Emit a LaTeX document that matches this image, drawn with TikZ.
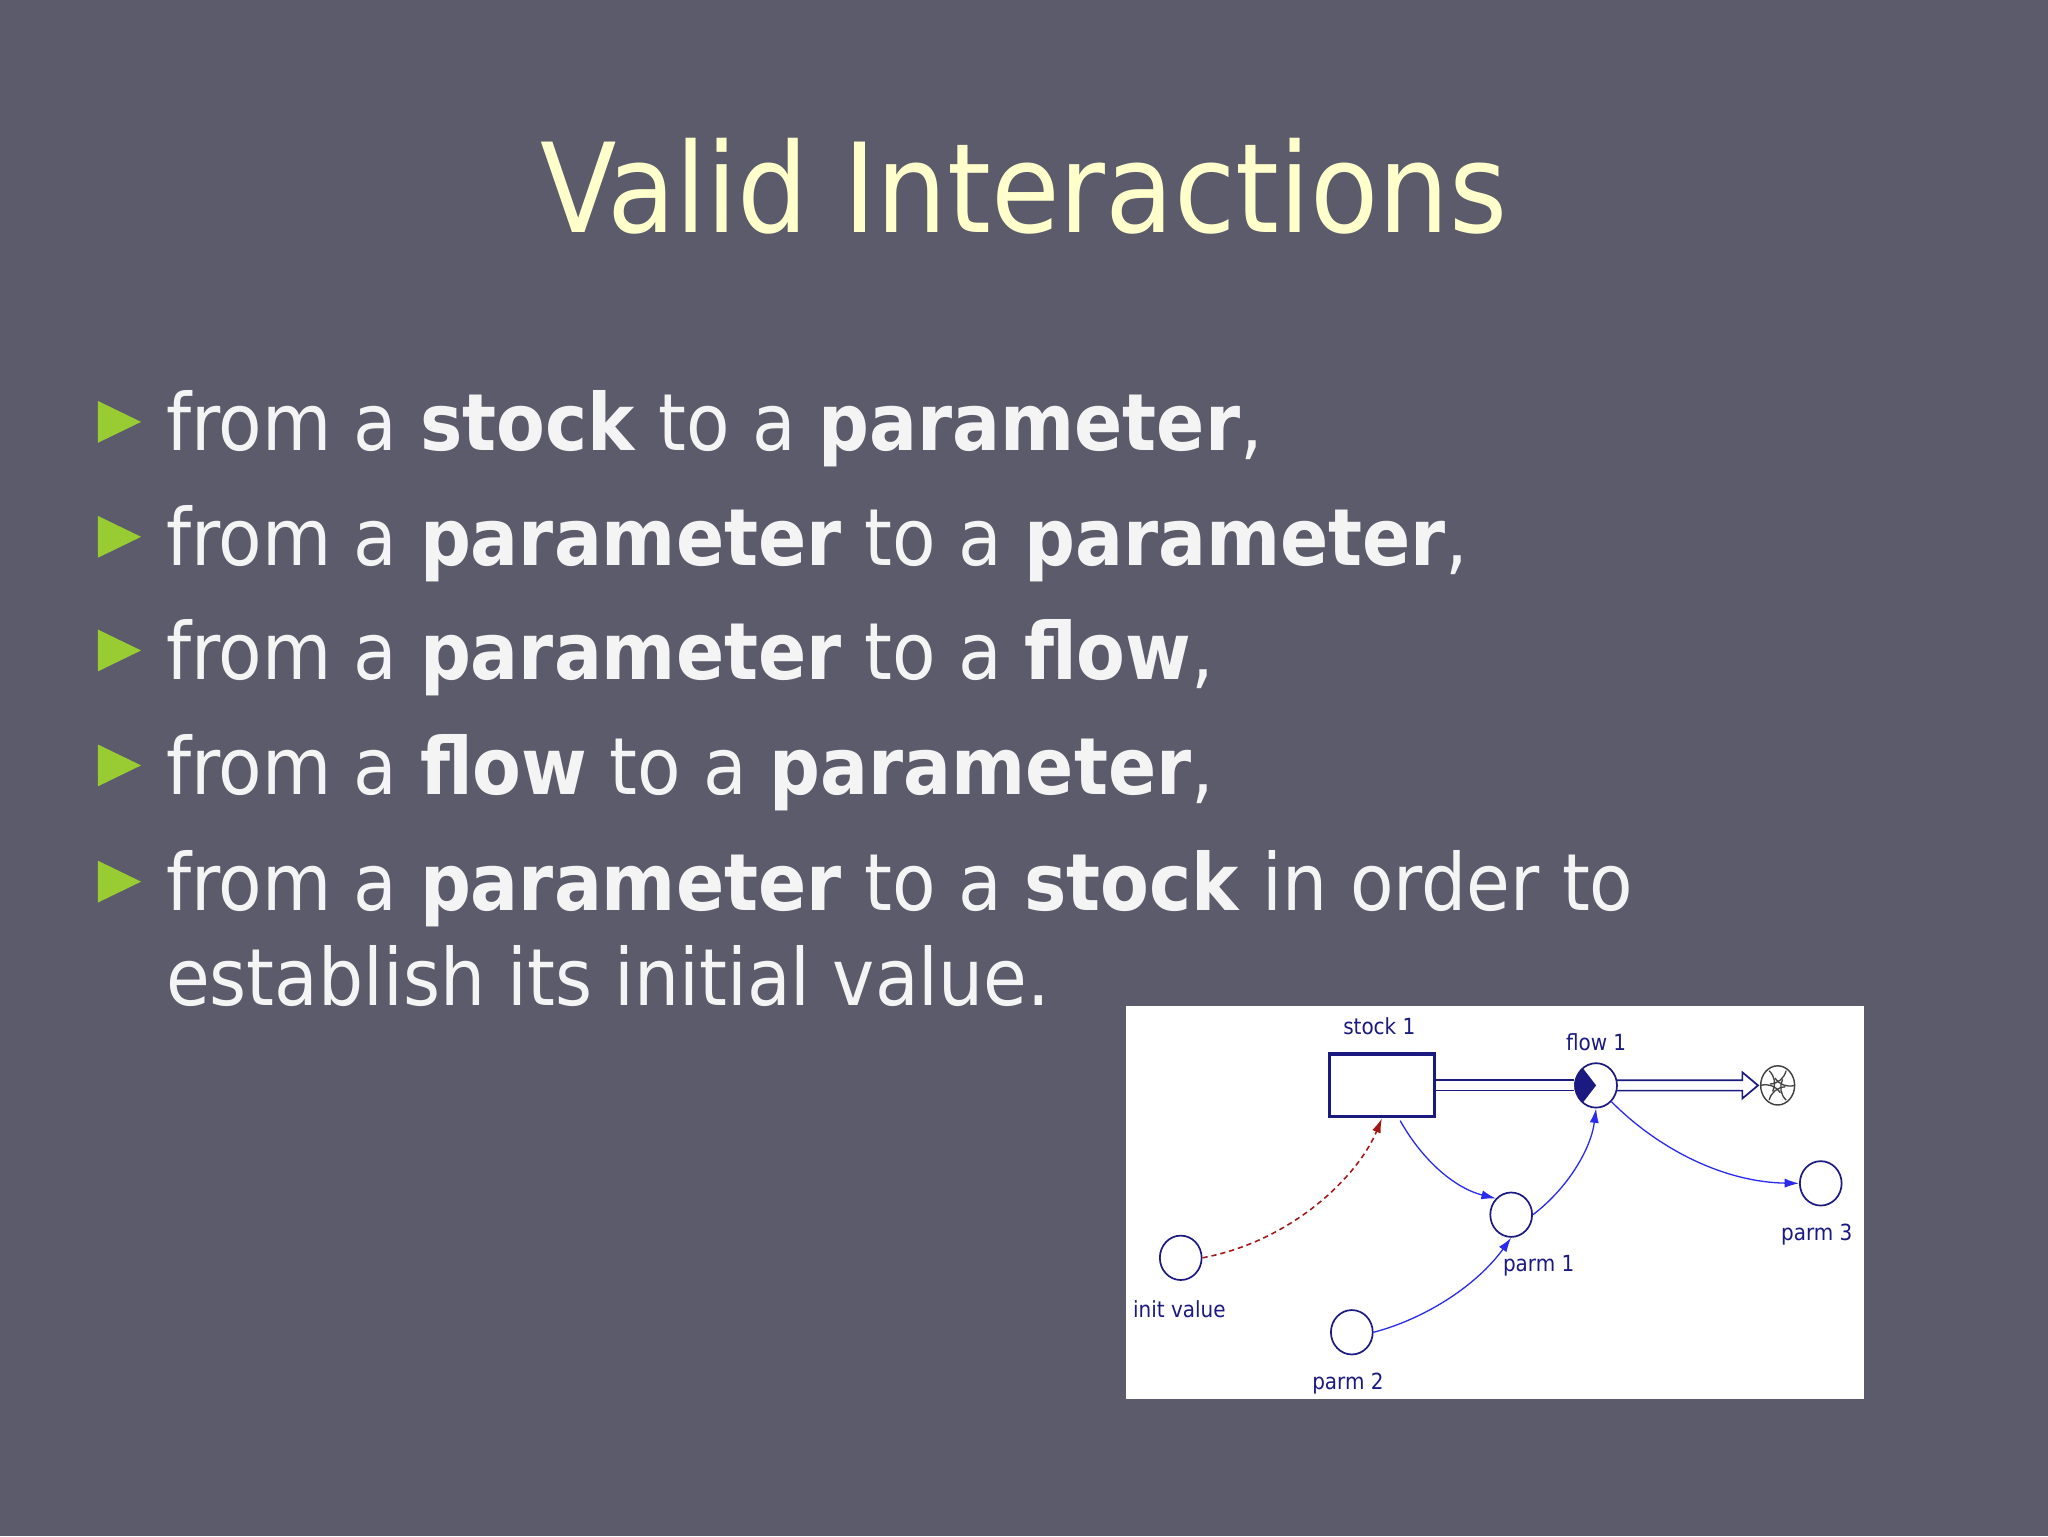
\documentclass[tikz,border=0pt]{standalone}
\usepackage{fontspec}
\setmainfont{DejaVu Sans Condensed}
\usetikzlibrary{arrows.meta,shapes.geometric,calc}
\definecolor{bg}{HTML}{5B5B6B}
\definecolor{ttl}{HTML}{FFFFCC}
\definecolor{grn}{HTML}{99CC33}
\definecolor{txt}{HTML}{F4F4F4}
\definecolor{navy}{HTML}{1A1A80}
\definecolor{lnk}{HTML}{2A2AF0}
\definecolor{dred}{HTML}{A01818}
\tikzset{
  bul/.style={anchor=base west,text=txt,font=\fontsize{60.5}{70}\selectfont,inner sep=0},
  tri/.style={fill=grn,draw=none},
  parm/.style={ellipse,draw=navy,line width=1.3pt,fill=white,minimum width=32pt,minimum height=34pt,inner sep=0},
  lab/.style={text=navy,font=\fontsize{17}{20}\selectfont,inner sep=0},
  link/.style={draw=lnk,line width=1pt,-{Latex[length=11pt,width=7pt]}},
}
\begin{document}
\begin{tikzpicture}[x=1pt,y=-1pt]
\fill[bg] (0,0) rectangle (1568,1176);
\useasboundingbox (0,0) rectangle (1568,1176);
\node[text=ttl,font=\fontsize{95}{105}\selectfont,anchor=base,inner sep=0] (title) at (784,178) {Valid Interactions};
\foreach \y/\n in {345/1,433/2,520/3,608/4,697/5}{
  \fill[tri] (75,{\y-38}) -- (108,{\y-22}) -- (75,{\y-6}) -- cycle;
}
\node[bul] (l1) at (127,345) {from a \textbf{stock} to a \textbf{parameter},};
\node[bul] (l2) at (127,433) {from a \textbf{parameter} to a \textbf{parameter},};
\node[bul] (l3) at (127,520) {from a \textbf{parameter} to a \textbf{flow},};
\node[bul] (l4) at (127,608) {from a \textbf{flow} to a \textbf{parameter},};
\node[bul] (l5) at (127,697) {from a \textbf{parameter} to a \textbf{stock} in order to};
\node[bul] (l6) at (127,770) {establish its initial value.};
% diagram
\fill[white] (862,770) rectangle (1427,1071);
\node[draw=navy,line width=2.5pt,fill=white,minimum width=80pt,minimum height=48pt,inner sep=0] (stock) at (1058,831) {};
\node[lab] (stocklab) at (1056,786) {stock 1};
\node[parm] (flow) at (1222,831) {};
\node[lab] (flowlab) at (1222,798) {flow 1};
\node[parm] (p1) at (1157,930) {};
\node[lab] (p1lab) at (1178,969) {parm 1};
\node[parm] (p3) at (1394,906) {};
\node[lab] (p3lab) at (1391,945) {parm 3};
\node[parm] (iv) at (904,963) {};
\node[lab] (ivlab) at (903,1002) {init value};
\node[parm] (p2) at (1035,1020) {};
\node[lab] (p2lab) at (1032,1059) {parm 2};
\coordinate (cloud) at (1361,831);
% pipes
\draw[navy,line width=1.3pt] ($(stock.east)+(0,-4)$) -- ($(flow.west)+(0,-4)$);
\draw[navy,line width=1.3pt] ($(stock.east)+(0,4)$) -- ($(flow.west)+(0,4)$);
\draw[navy,line width=1.3pt] (1238,827) -- (1334,827) -- (1334,821) -- (1346,831) -- (1334,841) -- (1334,835) -- (1238,835);
% valve fill
\fill[navy] (1212,818) -- (1222,831) -- (1212,844) arc[start angle=235,end angle=125,radius=16pt] -- cycle;
% cloud
\draw[black!75,line width=1.1pt] (cloud) ellipse[x radius=13pt,y radius=15pt];
\foreach \a in {0,60,...,300}{
  \draw[black!75,line width=1pt] ($(cloud)+(\a:13pt)$) to[bend left=35] ($(cloud)+(\a+110:6pt)$);
}
% links
\coordinate (s1) at (1072,858);
\draw[link] (s1) .. controls (1090,890) and (1115,910) .. (p1.north west);
\draw[link] (p1.east) .. controls (1200,910) and (1218,880) .. (flow.south);
\draw[link] (flow.south east) .. controls (1270,880) and (1320,905) .. (p3.west);
\draw[link] (p2.east) .. controls (1090,1010) and (1130,985) .. (p1.south);
\draw[draw=dred,line width=1.2pt,dash pattern=on 4pt off 3pt,-{Latex[length=11pt,width=7pt]}] (iv.east) .. controls (990,950) and (1040,900) .. (stock.south);
\end{tikzpicture}
\end{document}
